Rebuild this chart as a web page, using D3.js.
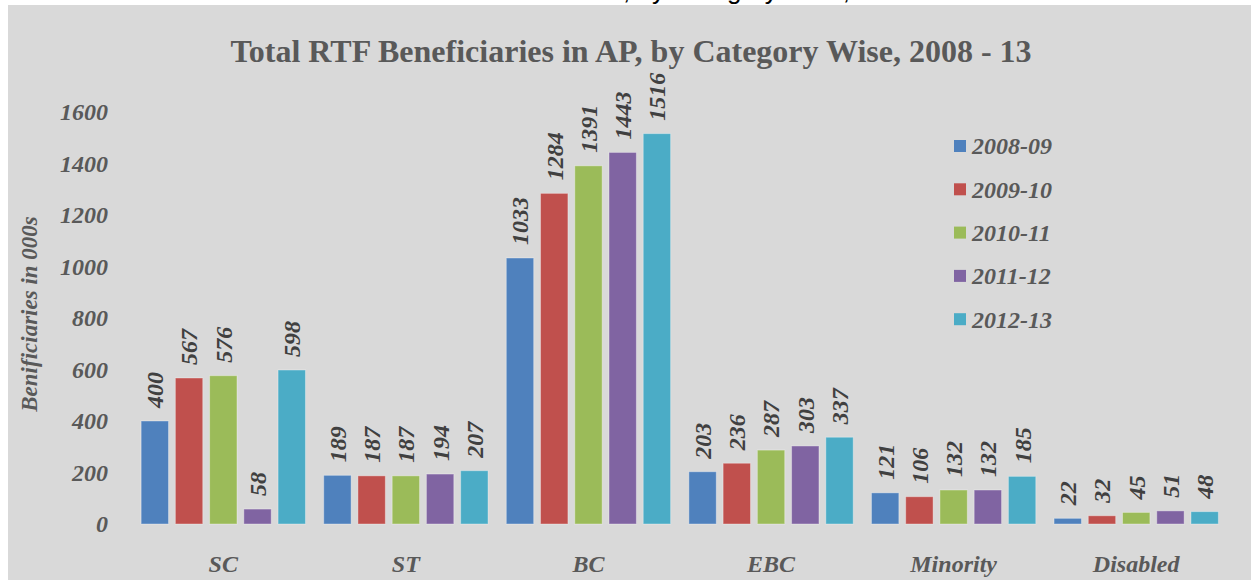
<!DOCTYPE html>
<html>
<head>
<meta charset="utf-8">
<script src="https://cdn.jsdelivr.net/npm/d3@7"></script>
<style>
  body { margin: 0; background: #fff; }
  svg { display: block; }
  .lbl { font-family: "Liberation Serif", "Times New Roman", serif; font-style: italic; font-weight: bold; }
</style>
</head>
<body>
<svg id="chart" width="1251" height="580"></svg>
<script>
var categories = ["SC", "ST", "BC", "EBC", "Minority", "Disabled"];
var years = ["2008-09", "2009-10", "2010-11", "2011-12", "2012-13"];
var colors = ["#4f81bd", "#c0504d", "#9bbb59", "#8064a2", "#4bacc6"];
var v2008 = [400, 189, 1033, 203, 121, 22];
var v2009 = [567, 187, 1284, 236, 106, 32];
var v2010 = [576, 187, 1391, 287, 132, 45];
var v2011 = [58, 194, 1443, 303, 132, 51];
var v2012 = [598, 207, 1516, 337, 185, 48];
var yTicks = [0, 200, 400, 600, 800, 1000, 1200, 1400, 1600];
var titleText = "Total RTF Beneficiaries in AP, by Category Wise, 2008 - 13";

var series = [v2008, v2009, v2010, v2011, v2012];

var svg = d3.select("#chart");

// chart area background
svg.append("rect")
    .attr("x", 8).attr("y", 5)
    .attr("width", 1243).attr("height", 575)
    .attr("fill", "#d9d9d9");

// caption above the box, mostly cut off by the top edge as in the source image
var cap = svg.append("text")
    .attr("y", -1)
    .style("font-family", "'Liberation Sans', Arial, sans-serif")
    .style("font-size", "26px")
    .attr("fill", "#000")
    .text(titleText);
var pre = cap.node().getSubStringLength(0, titleText.indexOf(","));
cap.attr("x", 623 - pre);

svg.append("text")
    .attr("x", 631).attr("y", 62)
    .attr("text-anchor", "middle")
    .style("font-family", "'Liberation Serif', 'Times New Roman', serif")
    .style("font-weight", "bold")
    .style("font-size", "32px")
    .attr("fill", "#595959")
    .text(titleText);

var x0 = d3.scaleBand()
    .domain(categories)
    .range([132, 1227.5])
    .paddingInner(0.1)
    .paddingOuter(0.05);

var x1 = d3.scaleBand()
    .domain(d3.range(years.length))
    .range([0, x0.bandwidth()])
    .paddingInner(0.2);

var y = d3.scaleLinear()
    .domain([0, 1600])
    .range([524, 112]);

// y tick labels
svg.append("g").selectAll("text")
    .data(yTicks)
    .join("text")
    .attr("class", "lbl")
    .attr("x", 108)
    .attr("y", function(d) { return y(d); })
    .attr("dy", "0.35em")
    .attr("text-anchor", "end")
    .style("font-size", "24px")
    .attr("fill", "#595959")
    .text(function(d) { return d; });

svg.append("text")
    .attr("class", "lbl")
    .attr("transform", "translate(37,314) rotate(-90)")
    .attr("text-anchor", "middle")
    .style("font-size", "23px")
    .attr("fill", "#595959")
    .text("Benificiaries in 000s");

// bars
var groups = svg.append("g").selectAll("g")
    .data(categories)
    .join("g")
    .attr("transform", function(d) { return "translate(" + x0(d) + ",0)"; });

groups.each(function(cat, ci) {
    var g = d3.select(this);
    var vals = series.map(function(s, si) { return {si: si, v: s[ci]}; });

    g.selectAll("rect")
        .data(vals)
        .join("rect")
        .attr("x", function(d) { return x1(d.si); })
        .attr("y", function(d) { return y(d.v); })
        .attr("width", x1.bandwidth())
        .attr("height", function(d) { return y(0) - y(d.v); })
        .attr("fill", function(d) { return colors[d.si]; })
        .attr("stroke", "rgba(255,255,255,0.35)")
        .attr("stroke-width", 1);

    g.selectAll("text")
        .data(vals)
        .join("text")
        .attr("class", "lbl")
        .attr("transform", function(d) {
            return "translate(" + (x1(d.si) + x1.bandwidth() / 2) + "," + (y(d.v) - 13) + ") rotate(-90)";
        })
        .attr("dy", "0.35em")
        .style("font-size", "24px")
        .attr("fill", "#404040")
        .text(function(d) { return d.v; });
});

// category labels
svg.append("g").selectAll("text")
    .data(categories)
    .join("text")
    .attr("class", "lbl")
    .attr("x", function(d) { return x0(d) + x0.bandwidth() / 2; })
    .attr("y", 572)
    .attr("text-anchor", "middle")
    .style("font-size", "24px")
    .attr("fill", "#595959")
    .text(function(d) { return d; });

// legend
var legend = svg.append("g").selectAll("g")
    .data(years)
    .join("g")
    .attr("transform", function(d, i) { return "translate(954," + (146 + i * 43.3) + ")"; });

legend.append("rect")
    .attr("x", 0).attr("y", -6)
    .attr("width", 12).attr("height", 12)
    .attr("fill", function(d, i) { return colors[i]; });

legend.append("text")
    .attr("class", "lbl")
    .attr("x", 18)
    .attr("dy", "0.35em")
    .style("font-size", "24px")
    .attr("fill", "#595959")
    .text(function(d) { return d; });
</script>
</body>
</html>
